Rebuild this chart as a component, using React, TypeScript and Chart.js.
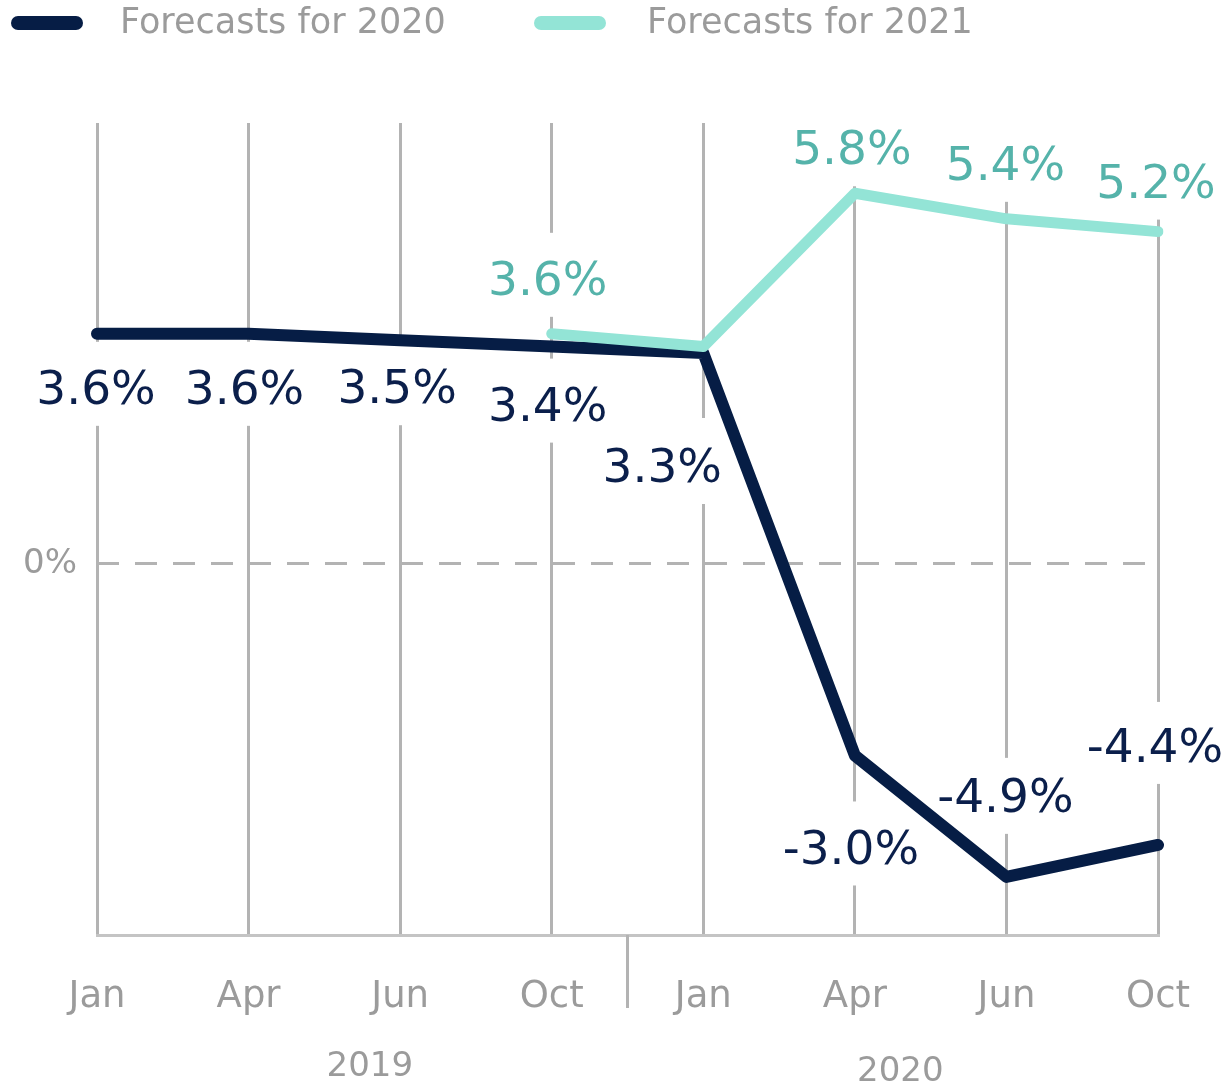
import React, { useEffect, useRef } from 'react';
import { Chart, registerables } from 'chart.js';

Chart.register(...registerables);

// ---- data ----
const categories = ['Jan', 'Apr', 'Jun', 'Oct', 'Jan', 'Apr', 'Jun', 'Oct'];
const yearLabels = ['2019', '2020'];
const seriesNames = ['Forecasts for 2020', 'Forecasts for 2021'];
const forecast2020 = [3.6, 3.6, 3.5, 3.4, 3.3, -3.0, -4.9, -4.4];
const forecast2021 = [null, null, null, 3.6, 3.4, 5.8, 5.4, 5.2];
const labelled2020 = [true, true, true, true, true, true, true, true];
const labelled2021 = [false, false, false, true, false, true, true, true];
const zeroTickLabel = '0%';
const yMin = -5.81;
const yMax = 6.9;

// ---- styles ----
const NAVY = '#061d45';
const TEAL = '#93e4d6';
const NAVY_TEXT = '#0b1f4b';
const TEAL_TEXT = '#55b3aa';
const GRAY_TEXT = '#9b9b9b';
const GRID = '#b3b3b3';
const FONT = '"DejaVu Sans", sans-serif';
const LABEL_FONT = `47px ${FONT}`;

// label offsets (px) relative to the point: [dx, dy]
const offsets2020 = [[-1, 58], [-4, 58], [-3, 51], [-4, 62], [-41, 117], [-4, 96], [-1, -77], [-3, -95]];
const offsets2021 = [null, null, null, [-4, -51], null, [-3, -41], [-1, -51], [-2, -46]];
// extra box extension upwards (covers gridlines above the label)
const boxUp2020 = [50, 50, 50, 50, 52, 50, 42, 48];
const boxUp2021 = [0, 0, 0, 50, 0, 90, 90, 90];

type LabelFn = (text: string, x: number, y: number, color: string, up: number) => void;

function forEachLabel(chart: any, fn: LabelFn) {
  const sets = [
    { idx: 0, data: forecast2020, show: labelled2020, offs: offsets2020, up: boxUp2020, color: NAVY_TEXT },
    { idx: 1, data: forecast2021, show: labelled2021, offs: offsets2021, up: boxUp2021, color: TEAL_TEXT },
  ];
  sets.forEach((s) => {
    const meta = chart.getDatasetMeta(s.idx);
    s.data.forEach((v, j) => {
      if (v === null || !s.show[j]) return;
      const el = meta.data[j];
      const off = s.offs[j] || [0, 0];
      fn(`${(v as number).toFixed(1)}%`, el.x + off[0], el.y + off[1], s.color, s.up[j]);
    });
  });
}

const labelPlugin = {
  id: 'valueLabels',
  beforeDatasetsDraw(chart: any) {
    const ctx = chart.ctx;
    ctx.save();
    ctx.font = LABEL_FONT;
    forEachLabel(chart, (text, x, y, _c, up) => {
      const w = ctx.measureText(text).width;
      ctx.fillStyle = '#ffffff';
      ctx.fillRect(x - w / 2 - 6, y - up, w + 12, up + 34);
    });
    ctx.restore();
  },
  afterDatasetsDraw(chart: any) {
    const ctx = chart.ctx;
    ctx.save();
    ctx.font = LABEL_FONT;
    ctx.textAlign = 'center';
    ctx.textBaseline = 'middle';
    forEachLabel(chart, (text, x, y, color) => {
      ctx.fillStyle = color;
      ctx.fillText(text, x, y);
    });
    ctx.restore();
  },
};

const decorPlugin = {
  id: 'decor',
  afterDraw(chart: any) {
    const ctx = chart.ctx;
    const xs = chart.scales.x;
    const area = chart.chartArea;
    ctx.save();
    // separator between years
    const sx = xs.getPixelForValue(3.5);
    ctx.strokeStyle = GRID;
    ctx.lineWidth = 3;
    ctx.beginPath();
    ctx.moveTo(sx, area.bottom);
    ctx.lineTo(sx, 1008);
    ctx.stroke();
    // year labels
    ctx.font = `34px ${FONT}`;
    ctx.fillStyle = GRAY_TEXT;
    ctx.textAlign = 'center';
    ctx.textBaseline = 'middle';
    ctx.fillText(yearLabels[0], xs.getPixelForValue(1.8), 1067);
    ctx.fillText(yearLabels[1], xs.getPixelForValue(5.3), 1072);
    // legend
    const items = [
      { x: 12, textX: 120, color: NAVY, name: seriesNames[0] },
      { x: 535, textX: 647, color: TEAL, name: seriesNames[1] },
    ];
    ctx.font = `35px ${FONT}`;
    ctx.textAlign = 'left';
    items.forEach((it) => {
      ctx.strokeStyle = it.color;
      ctx.lineWidth = 14;
      ctx.lineCap = 'round';
      ctx.beginPath();
      ctx.moveTo(it.x + 6, 23);
      ctx.lineTo(it.x + 64, 23);
      ctx.stroke();
      ctx.fillStyle = GRAY_TEXT;
      ctx.fillText(it.name, it.textX, 24);
    });
    ctx.restore();
  },
};

export default function App() {
  const canvasRef = useRef<HTMLCanvasElement | null>(null);

  useEffect(() => {
    if (!canvasRef.current) return;
    const chart = new Chart(canvasRef.current, {
      type: 'line',
      data: {
        labels: categories,
        datasets: [
          {
            label: seriesNames[0],
            data: forecast2020,
            borderColor: NAVY,
            backgroundColor: NAVY,
            borderWidth: 12,
            pointRadius: 0,
            tension: 0,
            borderCapStyle: 'round',
            borderJoinStyle: 'round',
            order: 2,
          },
          {
            label: seriesNames[1],
            data: forecast2021,
            borderColor: TEAL,
            backgroundColor: TEAL,
            borderWidth: 11,
            pointRadius: 0,
            tension: 0,
            borderCapStyle: 'round',
            borderJoinStyle: 'round',
            order: 1,
          },
        ],
      },
      options: {
        animation: false,
        responsive: true,
        maintainAspectRatio: false,
        layout: { padding: { top: 123, right: 72, left: 0, bottom: 0 } },
        plugins: {
          legend: { display: false },
          tooltip: { enabled: false },
        },
        scales: {
          x: {
            offset: false,
            grid: { color: GRID, lineWidth: 3, drawTicks: false },
            border: { display: true, color: '#c4c4c4', width: 3 },
            ticks: {
              color: GRAY_TEXT,
              font: { family: FONT, size: 37 },
              padding: 40,
              maxRotation: 0,
              autoSkip: false,
            },
            afterFit: (scale: any) => {
              scale.height = 152;
            },
          },
          y: {
            min: yMin,
            max: yMax,
            grid: { color: GRID, lineWidth: 3, drawTicks: false },
            border: { display: false, dash: [22, 16] },
            ticks: {
              color: GRAY_TEXT,
              font: { family: FONT, size: 34 },
              padding: 20,
              callback: (v: any) => (Number(v) === 0 ? zeroTickLabel : ''),
            },
            afterBuildTicks: (scale: any) => {
              scale.ticks = [{ value: 0 }];
            },
            afterFit: (scale: any) => {
              scale.width = 97;
            },
          },
        },
      },
      plugins: [labelPlugin, decorPlugin],
    });
    return () => chart.destroy();
  }, []);

  return (
    <div style={{ position: 'fixed', left: 0, top: 0, width: 1230, height: 1087, background: '#fff' }}>
      <canvas ref={canvasRef} />
    </div>
  );
}
